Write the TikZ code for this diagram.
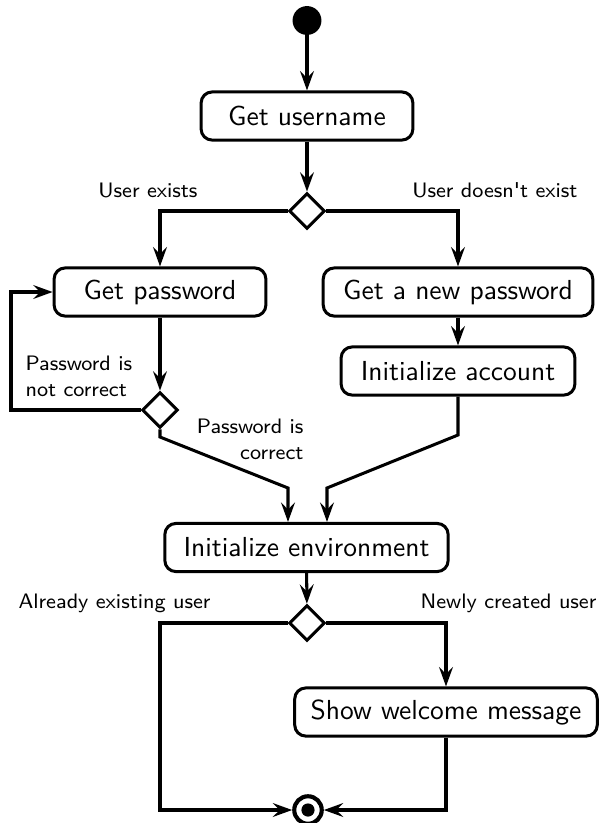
\documentclass[tikz,border=0pt]{standalone}
\usetikzlibrary{shapes.geometric,arrows.meta}
\begin{document}
\begin{tikzpicture}[x=0.3636pt,y=-0.3636pt, font=\sffamily,
 box/.style={draw, line width=1.1pt, rounded corners=4pt, minimum height=17.5pt, inner sep=0pt},
 dec/.style={draw, diamond, line width=1.1pt, minimum width=13pt, minimum height=13pt, inner sep=0pt},
 conn/.style={line width=1.1pt},
 arr/.style={conn, -{Stealth[length=7pt,width=5pt,inset=2.5pt]}},
 lbl/.style={font=\sffamily\fontsize{7.6}{9.5}\selectfont, inner sep=0pt}]
\useasboundingbox (0,0) rectangle (599,823);
% nodes
\node[circle, fill, inner sep=0pt, minimum size=10.5pt] (start) at (307,20.5) {};
\node[box, minimum width=77pt] (un) at (307,116) {Get username};
\node[dec] (d1) at (307,211) {};
\node[box, minimum width=77pt] (gp) at (160,292) {Get password};
\node[box, minimum width=98pt] (gn) at (458,292) {Get a new password};
\node[box, minimum width=85pt] (ia) at (458,371) {Initialize account};
\node[dec] (d2) at (160,410) {};
\node[box, minimum width=103pt] (env) at (306.5,547.5) {Initialize environment};
\node[dec] (d3) at (307,623) {};
\node[box, minimum width=110pt] (sw) at (446,712) {Show welcome message};
\node[circle, draw, line width=1.5pt, minimum size=10pt, inner sep=0pt] (end) at (308,810) {};
\fill (end.center) circle[radius=2.4pt];
% labels
\node[lbl, anchor=east] (l1) at (198,190) {User exists};
\node[lbl, anchor=east] (l2) at (578,190) {User doesn\textquotesingle t exist};
\node[lbl, align=left, anchor=west] (l3) at (25,376) {Password is\\not correct};
\node[lbl, align=right, anchor=east] (l4) at (304,439) {Password is\\correct};
\node[lbl, anchor=west] (l5) at (18,603) {Already existing user};
\node[lbl, anchor=east] (l6) at (597,603) {Newly created user};
% coordinates
\coordinate (lp) at (11,410);
\coordinate (a1) at (160,437);
\coordinate (a2) at (288,488);
\coordinate (b1) at (458,435);
\coordinate (b2) at (327,488);
\coordinate (c1) at (160,810);
\coordinate (c2) at (446,810);
% connectors
\draw[arr] (start) -- (un);
\draw[arr] (un) -- (d1);
\draw[arr] (d1.west) -| (gp.north);
\draw[arr] (d1.east) -| (gn.north);
\draw[arr] (gn) -- (ia);
\draw[arr] (gp) -- (d2);
\draw[arr] (d2.west) -- (lp) |- (gp.west);
\draw[arr] (d2.south) -- (a1) -- (a2) -- (a2 |- env.north);
\draw[arr] (ia.south) -- (b1) -- (b2) -- (b2 |- env.north);
\draw[arr] (env) -- (d3);
\draw[arr] (d3.west) -| (c1) -- (end.west);
\draw[arr] (d3.east) -| (sw.north);
\draw[arr] (sw.south) -- (c2) -- (end.east);
\end{tikzpicture}
\end{document}
